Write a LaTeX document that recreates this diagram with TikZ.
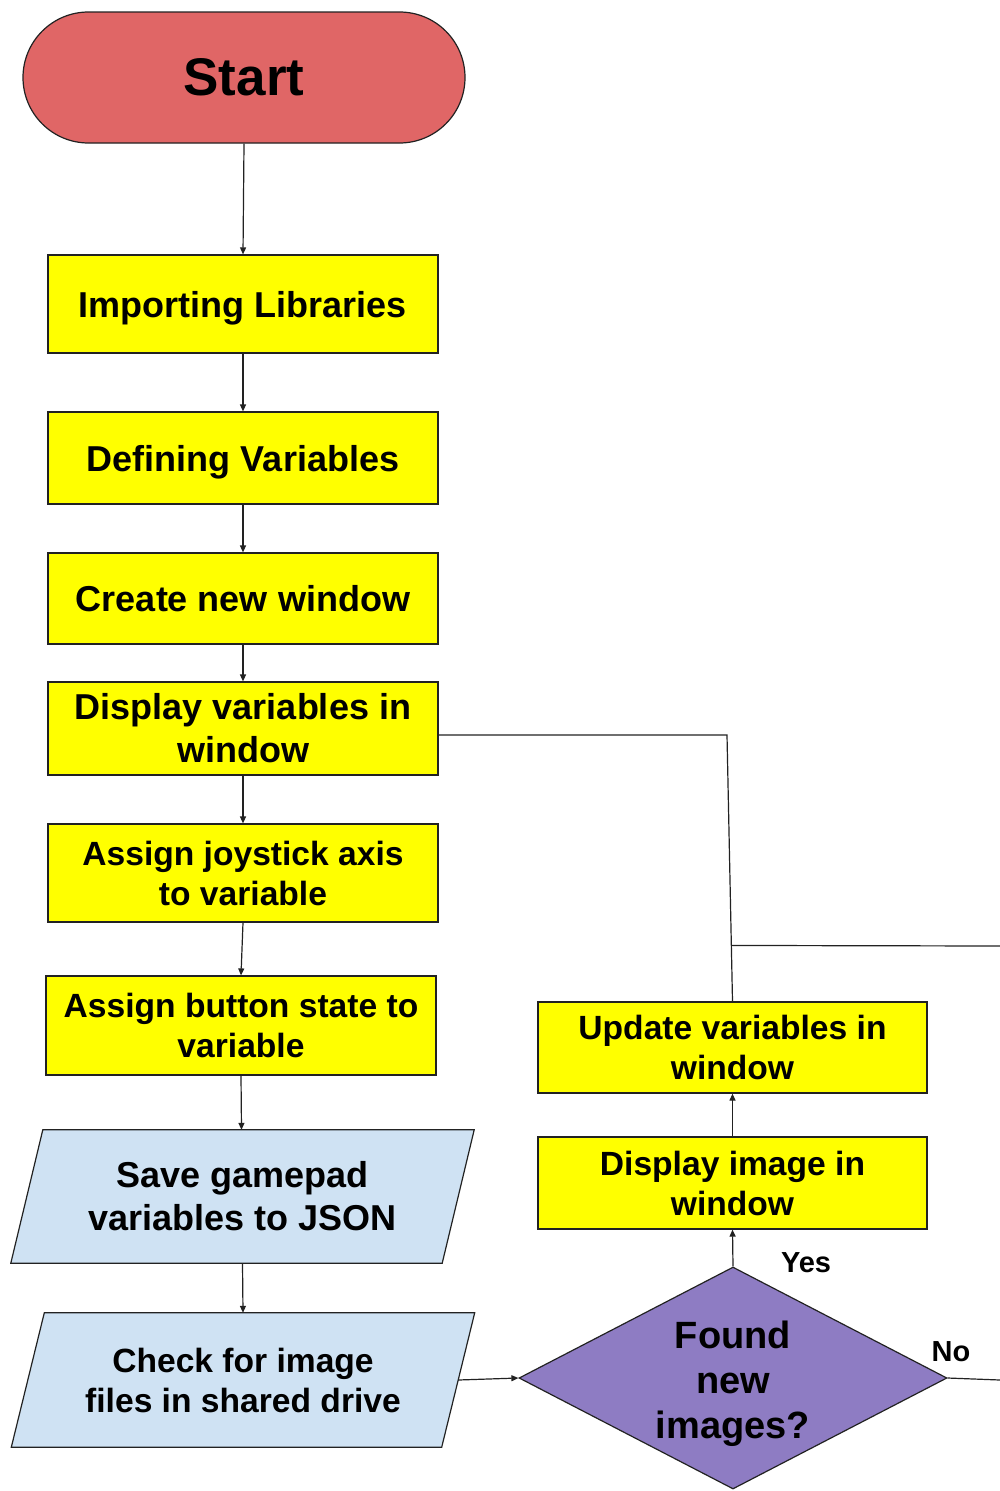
\documentclass[tikz,border=0pt]{standalone}
\usepackage{fontspec}
\setmainfont{Liberation Sans}
\usetikzlibrary{shapes.geometric,shapes.misc,arrows.meta,backgrounds,calc}
\definecolor{startred}{HTML}{E06666}
\definecolor{boxyellow}{HTML}{FFFF00}
\definecolor{ioblue}{HTML}{CFE2F3}
\definecolor{decpurple}{HTML}{8E7CC3}
\definecolor{edgecol}{HTML}{222222}
\begin{document}
\begin{tikzpicture}[x=1pt,y=-1pt,
  fA/.style={font=\fontsize{36}{43}\selectfont\bfseries},
  fB/.style={font=\fontsize{33.6}{40}\selectfont\bfseries},
  procbox/.style={draw=edgecol,line width=1.2pt,fill=boxyellow,minimum width=390pt,inner sep=0pt,align=center},
  iotext/.style={minimum width=463pt,minimum height=133pt,inner sep=0pt,align=center},
  iofill/.style={draw=edgecol,line width=1.2pt,fill=ioblue},
  conn/.style={draw=edgecol,line width=1.2pt},
  arr/.style={conn,-{Triangle[length=7pt,width=6pt]}},
  lab/.style={font=\fontsize{29}{34}\selectfont\bfseries,inner sep=0pt}
]
\useasboundingbox (0,0) rectangle (1000,1491);

\node[draw=edgecol,line width=1.2pt,fill=startred,shape=rounded rectangle,minimum width=442pt,minimum height=131pt,inner sep=0pt,font=\fontsize{53}{60}\selectfont\bfseries] (start) at (244,77.5) {Start};

\node[procbox,fA,minimum height=98pt,text depth=0pt] (imp) at (243,304) {Importing Libraries};
\node[procbox,fA,minimum height=92pt,text depth=0pt] (def) at (243,458) {Defining Variables};
\node[procbox,fA,minimum height=91pt] (cre) at (243,598.5) {Create new window};
\node[procbox,fA,minimum height=93pt] (disp) at (243,728.5) {Display variables in\\window};
\node[procbox,fB,minimum height=98pt] (joy) at (243,873) {Assign joystick axis\\to variable};
\node[procbox,fB,minimum height=99pt] (btn) at (241,1025.5) {Assign button state to\\variable};

\node[iotext,fA] (save) at (242.5,1196.5) {Save gamepad\\variables to JSON};
\node[iotext,fB,minimum height=134pt] (check) at (243,1380) {Check for image\\files in shared drive};
\begin{scope}[on background layer]
\draw[iofill] ($(save.north west)+(32,0)$) -- (save.north east) -- ($(save.south east)+(-32,0)$) -- (save.south west) -- cycle;
\draw[iofill] ($(check.north west)+(33,0)$) -- (check.north east) -- ($(check.south east)+(-33,0)$) -- (check.south west) -- cycle;
\end{scope}

\node[procbox,fB,minimum width=389pt,minimum height=91pt] (upd) at (732.5,1047.5) {Update variables in\\window};
\node[procbox,fB,minimum width=389pt,minimum height=92pt] (dimg) at (732.5,1183) {Display image in\\window};

\node[draw=edgecol,line width=1.2pt,fill=decpurple,shape=diamond,aspect=1.93,minimum width=428pt,minimum height=222pt,inner sep=0pt,
  label={[name=dectext,yshift=-6pt,inner sep=0pt,align=center,font=\fontsize{38}{45}\selectfont\bfseries]center:Found\\new\\images?}] (dec) at (733,1378) {};

\node[lab] (yes) at (806,1263) {Yes};
\node[lab] (no) at (951,1352) {No};

\coordinate (checkE) at ($(check.east)+(-16.5,0)$);
\coordinate (corner) at (727,735);
\coordinate (offNo) at (1000,1380);
\coordinate (offLoop) at (1000,946);

\draw[arr] (start.south) -- (imp.north);
\draw[arr] (imp.south) -- (def.north);
\draw[arr] (def.south) -- (cre.north);
\draw[arr] (cre.south) -- (disp.north);
\draw[arr] (disp.south) -- (joy.north);
\draw[arr] (joy.south) -- (btn.north);
\draw[arr] (btn.south) -- ($(save.north)+(-1,0)$);
\draw[arr] (save.south) -- (check.north);
\draw[arr] (checkE) -- (dec.west);
\draw[arr] (dec.north) -- (dimg.south);
\draw[arr] (dimg.north) -- (upd.south);
\draw[conn] (upd.north) -- (corner) -- (disp.east |- corner);
\coordinate (join) at ($(upd.north)!0.21!(corner)$);
\draw[conn] (offLoop) -- (join);
\draw[conn] (dec.east) -- (offNo);
\end{tikzpicture}
\end{document}
